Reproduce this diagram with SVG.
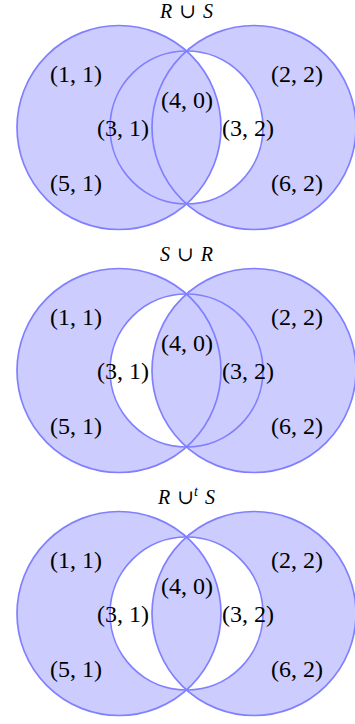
<svg xmlns="http://www.w3.org/2000/svg" xmlns:xlink="http://www.w3.org/1999/xlink" width="355" height="724" viewBox="0 0 355 724">
  <style>
    .fill { fill: #ccccff; }
    .hole { fill: #ffffff; }
    .edge { fill: none; stroke: #8080ff; stroke-width: 1.7; }
    .lbl { font-family: "Liberation Serif", "DejaVu Serif", serif; font-size: 24px; text-anchor: middle; fill: #000; }
    .title { font-family: "Liberation Serif", "DejaVu Serif", serif; font-size: 20px; text-anchor: middle; fill: #000; word-spacing: 2px; }
    .it { font-style: italic; }
  </style>
  <defs>
    <circle id="cL" cx="119" cy="0" r="102"/>
    <circle id="cR" cx="254" cy="0" r="102"/>
    <circle id="cM" cx="186.5" cy="0" r="76.5"/>
    <clipPath id="clipL">
      <circle cx="119" cy="0" r="102"/>
    </clipPath>
  </defs>

  <!-- Panel 1: R ∪ S -->
  <g id="panel1" transform="translate(0,127.5)">
    <g id="p1-regions">
      <use href="#cR" class="fill"/>
      <use href="#cM" class="hole"/>
      <use href="#cL" class="fill"/>
    </g>
    <g id="p1-circles">
      <use href="#cL" class="edge"/>
      <use href="#cR" class="edge"/>
      <use href="#cM" class="edge"/>
    </g>
    <text id="p1-title" class="title" x="186.5" y="-109.5"><tspan class="it">R</tspan> ∪ <tspan class="it">S</tspan></text>
    <g id="p1-labels">
      <text class="lbl" x="76" y="-45.5">(1, 1)</text>
      <text class="lbl" x="297" y="-45.5">(2, 2)</text>
      <text class="lbl" x="187" y="-19.5">(4, 0)</text>
      <text class="lbl" x="123" y="8.5">(3, 1)</text>
      <text class="lbl" x="248" y="8.5">(3, 2)</text>
      <text class="lbl" x="76" y="63.5">(5, 1)</text>
      <text class="lbl" x="297" y="63.5">(6, 2)</text>
    </g>
  </g>

  <!-- Panel 2: S ∪ R -->
  <g id="panel2" transform="translate(0,370.5)">
    <g id="p2-regions">
      <use href="#cL" class="fill"/>
      <use href="#cM" class="hole"/>
      <use href="#cR" class="fill"/>
    </g>
    <g id="p2-circles">
      <use href="#cL" class="edge"/>
      <use href="#cR" class="edge"/>
      <use href="#cM" class="edge"/>
    </g>
    <text id="p2-title" class="title" x="186.5" y="-109.5"><tspan class="it">S</tspan> ∪ <tspan class="it">R</tspan></text>
    <g id="p2-labels">
      <text class="lbl" x="76" y="-45.5">(1, 1)</text>
      <text class="lbl" x="297" y="-45.5">(2, 2)</text>
      <text class="lbl" x="187" y="-19.5">(4, 0)</text>
      <text class="lbl" x="123" y="8.5">(3, 1)</text>
      <text class="lbl" x="248" y="8.5">(3, 2)</text>
      <text class="lbl" x="76" y="63.5">(5, 1)</text>
      <text class="lbl" x="297" y="63.5">(6, 2)</text>
    </g>
  </g>

  <!-- Panel 3: R ∪t S -->
  <g id="panel3" transform="translate(0,613.5)">
    <g id="p3-regions">
      <use href="#cL" class="fill"/>
      <use href="#cR" class="fill"/>
      <use href="#cM" class="hole"/>
      <use href="#cR" class="fill" clip-path="url(#clipL)"/>
    </g>
    <g id="p3-circles">
      <use href="#cL" class="edge"/>
      <use href="#cR" class="edge"/>
      <use href="#cM" class="edge"/>
    </g>
    <text id="p3-title" class="title" x="186.5" y="-109.5"><tspan class="it">R</tspan> ∪<tspan class="it" font-size="14" dy="-8">t</tspan><tspan dy="8"> </tspan><tspan class="it">S</tspan></text>
    <g id="p3-labels">
      <text class="lbl" x="76" y="-45.5">(1, 1)</text>
      <text class="lbl" x="297" y="-45.5">(2, 2)</text>
      <text class="lbl" x="187" y="-19.5">(4, 0)</text>
      <text class="lbl" x="123" y="8.5">(3, 1)</text>
      <text class="lbl" x="248" y="8.5">(3, 2)</text>
      <text class="lbl" x="76" y="63.5">(5, 1)</text>
      <text class="lbl" x="297" y="63.5">(6, 2)</text>
    </g>
  </g>
</svg>
